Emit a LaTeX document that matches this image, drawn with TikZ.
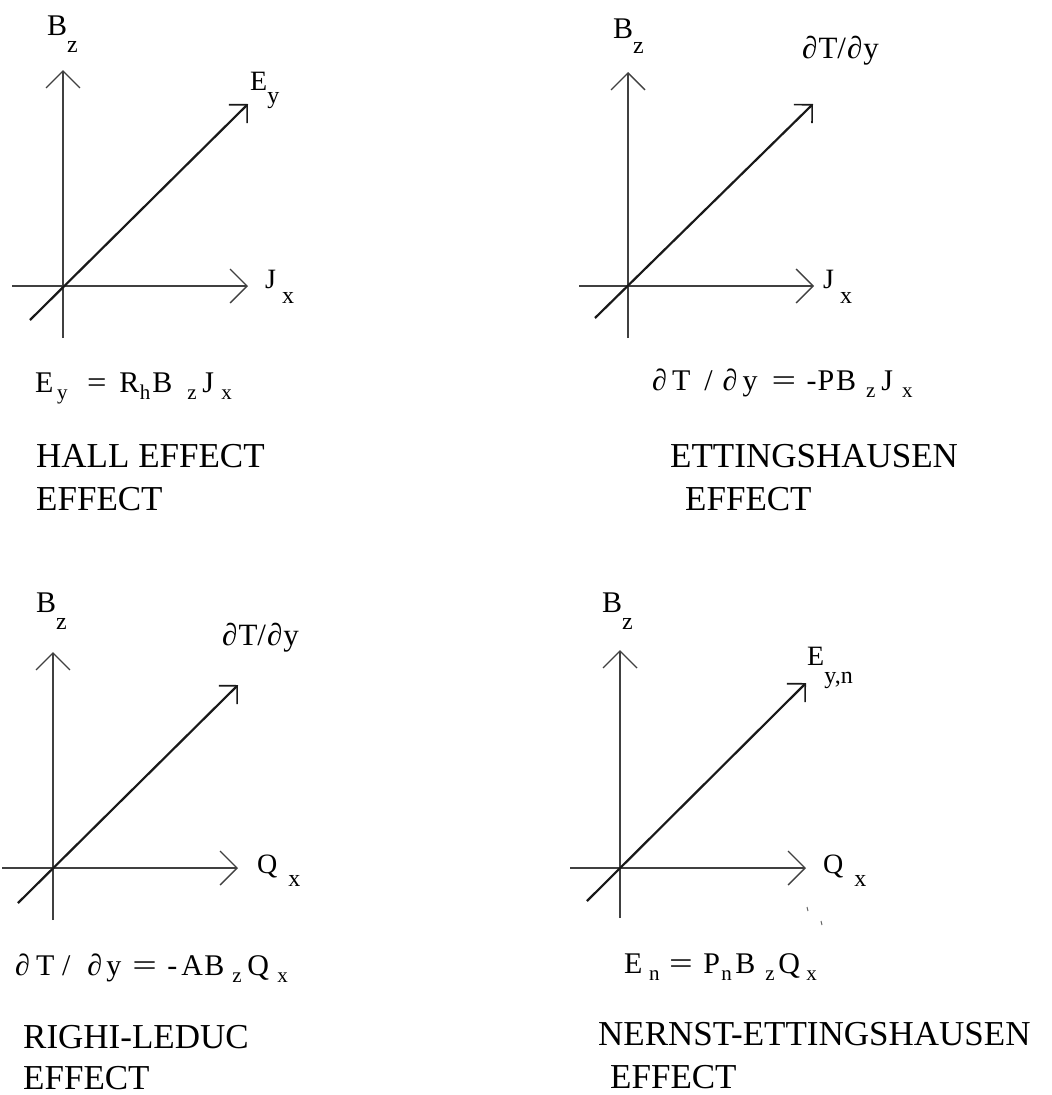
\documentclass[tikz,border=0pt]{standalone}
\usepackage{fontspec}
\usepackage{graphicx}
\setmainfont{Liberation Serif}
\usetikzlibrary{arrows.meta}
\newcommand{\dn}[2]{\raisebox{-#1pt}{\fontsize{24}{24}\selectfont #2}}
\newcommand{\es}[1]{\raisebox{-7pt}{\fontsize{21}{21}\selectfont #1}}
\newcommand{\hs}[1]{\hspace{#1pt}}
\newcommand{\weq}[1]{\scalebox{#1}[1]{=}}
\tikzset{
  axis/.style={line width=1.3pt, draw=black!75, -{Straight Barb[length=17pt,width=34pt,line width=1.4pt]}},
  diag/.style={line width=2.2pt, draw=black!90, -{Straight Barb[length=13pt,width=26pt,line width=1.6pt]}},
  lab/.style={inner sep=0pt, anchor=base west, font=\fontsize{28}{28}\selectfont},
  blab/.style={inner sep=0pt, anchor=base west, font=\fontsize{30}{30}\selectfont},
  dlab/.style={inner sep=0pt, anchor=base west, font=\fontsize{31}{31}\selectfont},
  eq/.style={inner sep=0pt, anchor=base west, font=\fontsize{30}{30}\selectfont},
  ttl/.style={inner sep=0pt, anchor=base west, font=\fontsize{35}{35}\selectfont},
}
\begin{document}
\begin{tikzpicture}[x=1pt,y=-1pt]
\useasboundingbox (0,0) rectangle (1052,1095);
% ---------- panel 1: Hall ----------
\coordinate (vb1) at (63,338); \coordinate (vt1) at (63,70);
\coordinate (hl1) at (12,286); \coordinate (hr1) at (248,286);
\coordinate (dl1) at (30,320); \coordinate (dr1) at (248,104);
\draw[axis] (vb1) -- (vt1);
\draw[axis] (hl1) -- (hr1);
\draw[diag] (dl1) -- (dr1);
\node[blab] (bz1) at (47,35) {B\dn{17}{z}};
\node[lab] (ey1) at (250,90) {E\dn{13}{y}};
\node[lab] (jx1) at (265,288) {J\hspace{6pt}\dn{15}{x}};
\node[eq] (eq1) at (35,392) {E\hs{3.7}\es{y}\hs{19.5}\weq{1.15}\hs{12.6}R\hs{0.5}\es{h}\hs{2}B\hs{15}\es{z}\hs{5.7}J\hs{7.3}\es{x}};
\node[ttl] (t1a) at (36,467) {HALL EFFECT};
\node[ttl] (t1b) at (36,510) {EFFECT};
% ---------- panel 2: Ettingshausen ----------
\coordinate (vb2) at (628,338); \coordinate (vt2) at (628,72);
\coordinate (hl2) at (579,286); \coordinate (hr2) at (814,286);
\coordinate (dl2) at (595,318); \coordinate (dr2) at (813,104);
\draw[axis] (vb2) -- (vt2);
\draw[axis] (hl2) -- (hr2);
\draw[diag] (dl2) -- (dr2);
\node[blab] (bz2) at (613,38) {B\dn{15}{z}};
\node[dlab] (dt2) at (802,58) {∂\hs{1}T/\hs{1}∂\hs{1}y};
\node[lab] (jx2) at (823,288) {J\hspace{6pt}\dn{15}{x}};
\node[eq] (eq2) at (652,390) {∂\hs{5}T\hs{14}/\hs{10}∂\hs{5}y\hs{14}\weq{1.45}\hs{10.5}-\hs{1}P\hs{2}B\hs{10}\es{z}\hs{5.7}J\hs{9.3}\es{x}};
\node[ttl] (t2a) at (670,467) {ETTINGSHAUSEN};
\node[ttl] (t2b) at (685,510) {EFFECT};
% ---------- panel 3: Righi-Leduc ----------
\coordinate (vb3) at (53,920); \coordinate (vt3) at (53,652);
\coordinate (hl3) at (2,868); \coordinate (hr3) at (238,868);
\coordinate (dl3) at (18,903); \coordinate (dr3) at (238,685);
\draw[axis] (vb3) -- (vt3);
\draw[axis] (hl3) -- (hr3);
\draw[diag] (dl3) -- (dr3);
\node[blab] (bz3) at (36,612) {B\dn{17}{z}};
\node[dlab] (dt3) at (222,645) {∂\hs{1}T/\hs{1}∂\hs{1}y};
\node[lab] (qx3) at (257,873) {Q\hspace{11pt}\dn{13}{x}};
\node[eq] (eq3) at (15,975) {∂\hs{6.2}T\hs{7.7}/\hs{16.7}∂\hs{4.2}y\hs{11}\weq{1.45}\hs{10.5}-\hs{4}A\hs{1.3}B\hs{8}\es{z}\hs{5.7}Q\hs{8.3}\es{x}};
\node[ttl] (t3a) at (23,1048) {RIGHI-LEDUC};
\node[ttl] (t3b) at (23,1089) {EFFECT};
% ---------- panel 4: Nernst-Ettingshausen ----------
\coordinate (vb4) at (620,918); \coordinate (vt4) at (620,650);
\coordinate (hl4) at (570,868); \coordinate (hr4) at (806,868);
\coordinate (dl4) at (587,901); \coordinate (dr4) at (806,683);
\draw[axis] (vb4) -- (vt4);
\draw[axis] (hl4) -- (hr4);
\draw[diag] (dl4) -- (dr4);
\node[blab] (bz4) at (602,612) {B\dn{17}{z}};
\node[lab] (ey4) at (807,665) {E\dn{18}{y,n}};
\node[lab] (qx4) at (823,873) {Q\hspace{11pt}\dn{13}{x}};
\node[eq] (eq4) at (624,973) {E\hs{6.7}\es{n}\hs{9.5}\weq{1.4}\hs{10.5}P\hs{1.3}\es{n}\hs{3.5}B\hs{10}\es{z}\hs{3.7}Q\hs{6.3}\es{x}};
\node[ttl] (t4a) at (598,1045) {NERNST-ETTINGSHAUSEN};
\node[ttl] (t4b) at (610,1088) {EFFECT};
% stray scan marks
\coordinate (m1a) at (807,907); \coordinate (m1b) at (808,911);
\coordinate (m2a) at (821,921); \coordinate (m2b) at (822,925);
\draw[line width=1pt, black!60] (m1a) -- (m1b) (m2a) -- (m2b);
\end{tikzpicture}
\end{document}
